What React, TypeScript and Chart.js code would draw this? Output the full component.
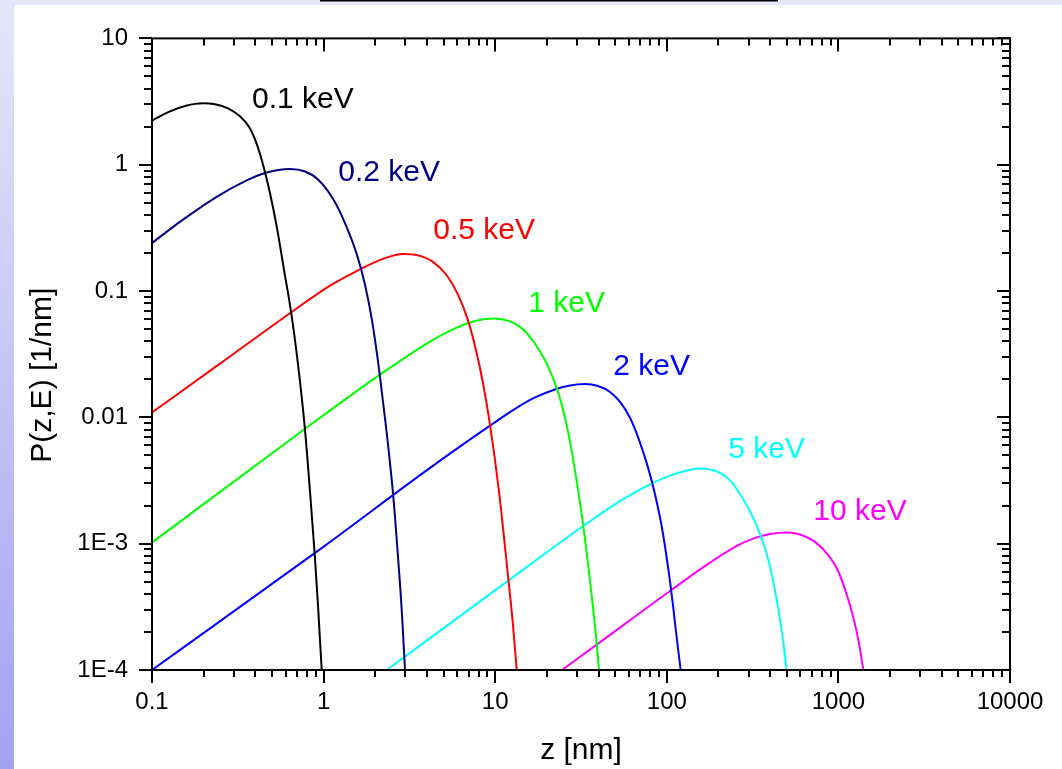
import React, { useEffect, useRef } from 'react';
import { Chart, registerables } from 'chart.js';

Chart.register(...registerables);

const FONT = "'Liberation Sans', Arial, Helvetica, sans-serif";

// Axis ticks
const X_TICK_VALUES = [0.1, 1, 10, 100, 1000, 10000];
const X_TICK_LABELS = ['0.1', '1', '10', '100', '1000', '10000'];
const Y_TICK_VALUES = [1e-4, 1e-3, 0.01, 0.1, 1, 10];
const Y_TICK_LABELS = ['1E-4', '1E-3', '0.01', '0.1', '1', '10'];

const X_TITLE = 'z [nm]';
const Y_TITLE = 'P(z,E) [1/nm]';

// Series (z in nm, P in 1/nm)
const NAMES = ['0.1 keV', '0.2 keV', '0.5 keV', '1 keV', '2 keV', '5 keV', '10 keV'];

const Z_01 = [0.1, 0.1273, 0.1578, 0.1982, 0.2329, 0.2773, 0.3257, 0.3675, 0.4091, 0.4465, 0.4872, 0.5352, 0.5878, 0.6457, 0.709, 0.776, 0.833, 0.8873, 0.9278, 0.9747];
const P_01 = [2.238, 2.644, 2.931, 3.066, 3.012, 2.792, 2.415, 1.997, 1.441, 0.968, 0.5937, 0.3151, 0.1473, 0.0689, 0.02638, 0.00844, 0.0026, 8.31e-4, 3.24e-4, 1e-4];

const Z_02 = [0.1, 0.1516, 0.2382, 0.3563, 0.4556, 0.637, 0.779, 0.9278, 1.139, 1.363, 1.565, 1.743, 1.915, 2.122, 2.31, 2.537, 2.714, 2.863, 2.981];
const P_02 = [0.2401, 0.3675, 0.5572, 0.7512, 0.8603, 0.9252, 0.8841, 0.7647, 0.5325, 0.3209, 0.1933, 0.1123, 0.05854, 0.02203, 0.00844, 0.00251, 7.87e-4, 2.76e-4, 1e-4];

const Z_05 = [0.1, 0.249, 0.6457, 1.09, 1.63, 2.219, 2.902, 3.549, 4.34, 5.239, 6.071, 6.942, 7.729, 8.489, 9.326, 10.52, 11.92, 12.7, 13.35];
const P_05 = [0.01093, 0.02662, 0.06763, 0.1103, 0.1487, 0.1798, 0.1968, 0.1915, 0.1703, 0.1322, 0.0937, 0.05854, 0.034, 0.01871, 0.008745, 0.0026, 5.29e-4, 2.26e-4, 1e-4];

const Z_1 = [0.1, 0.776, 2.131, 4.059, 5.832, 7.627, 9.973, 12.2, 14.33, 16.83, 19.51, 21.72, 24.17, 27.29, 29.98, 32.62, 35.68, 39.04, 40.27];
const P_1 = [1.02e-3, 0.008091, 0.02182, 0.03895, 0.05063, 0.05801, 0.06067, 0.05746, 0.05063, 0.0393, 0.02836, 0.02048, 0.01326, 0.006429, 0.003006, 0.00138, 5.1e-4, 1.63e-4, 1e-4];

const Z_2 = [0.1, 0.9788, 4.059, 9.326, 13.05, 17.06, 22.31, 27.29, 33.37, 39.72, 46.67, 53.38, 61.04, 69.8, 77.7, 85.35, 93.76, 101.6, 108.7, 114.7, 120.5];
const P_2 = [1e-4, 9.27e-4, 0.003873, 0.00859, 0.01168, 0.01439, 0.01663, 0.01788, 0.01837, 0.01771, 0.01589, 0.01326, 0.009928, 0.006318, 0.004017, 0.002463, 0.001331, 6.57e-4, 3.24e-4, 1.72e-4, 1e-4];

const Z_5 = [2.332, 2.981, 11.92, 32.62, 53.38, 79.82, 111.6, 156.1, 204.2, 239.9, 267.1, 305.3, 349.2, 388.9, 427.1, 467.3, 499.7];
const P_5 = [1e-4, 1.277e-4, 5.1e-4, 0.00138, 0.00217, 0.002952, 0.00357, 0.003944, 0.003635, 0.003061, 0.002463, 0.001811, 0.001194, 7.6e-4, 4.26e-4, 2.06e-4, 1e-4];

const Z_10 = [24.51, 39.04, 104.4, 178.5, 249.7, 326.6, 399.5, 499.7, 597.4, 730.4, 869.7, 994.7, 1118, 1221, 1318, 1397];
const P_10 = [1e-4, 1.587e-4, 4.22e-4, 7.07e-4, 9.44e-4, 0.001111, 0.001194, 0.001227, 0.001183, 0.001033, 8.16e-4, 6.11e-4, 3.96e-4, 2.62e-4, 1.63e-4, 1e-4];

const Z_SERIES = [Z_01, Z_02, Z_05, Z_1, Z_2, Z_5, Z_10];
const P_SERIES = [P_01, P_02, P_05, P_1, P_2, P_5, P_10];

// Styles
const COLORS = ['#000000', '#000080', '#ff0000', '#00ff00', '#0000ff', '#00ffff', '#ff00ff'];

// Curve label anchors (left edge, vertical centre) in data units
const LABEL_Z = [0.383, 1.218, 4.36, 15.6, 48.8, 228, 714];
const LABEL_P = [3.255, 0.868, 0.2985, 0.0796, 0.025, 0.00556, 0.00179];

function matchLabel(value: number, vals: number[], labels: string[]) {
  for (let i = 0; i < vals.length; i++) {
    if (Math.abs(Math.log10(value) - Math.log10(vals[i])) < 1e-6) return labels[i];
  }
  return '';
}

const chromePlugin = {
  id: 'chrome',
  beforeDraw(chart: any) {
    const { ctx, width, height } = chart;
    ctx.save();
    ctx.fillStyle = '#ffffff';
    ctx.fillRect(0, 0, width, height);
    ctx.fillStyle = '#e6e6fa';
    ctx.fillRect(0, 0, width, 5);
    const g = ctx.createLinearGradient(0, 0, 0, height);
    g.addColorStop(0, '#e6e6fa');
    g.addColorStop(1, '#a2a2f2');
    ctx.fillStyle = g;
    ctx.fillRect(0, 0, 14, height);
    ctx.fillStyle = '#000000';
    ctx.fillRect(320, 0, 458, 1.5);
    ctx.restore();
  },
  afterDraw(chart: any) {
    const { ctx, chartArea, scales } = chart;
    const { left, top, right, bottom } = chartArea;
    const xs = scales.x;
    const ys = scales.y;
    const steps = (min: number, max: number) => {
      const out: { v: number; major: boolean }[] = [];
      for (let e = Math.floor(Math.log10(min)); e <= Math.ceil(Math.log10(max)); e++) {
        for (let k = 1; k <= 9; k++) {
          const v = k * Math.pow(10, e);
          if (v >= min * 0.999999 && v <= max * 1.000001) out.push({ v, major: k === 1 });
        }
      }
      return out;
    };
    ctx.save();
    ctx.strokeStyle = '#000000';
    ctx.lineWidth = 2;
    ctx.beginPath();
    for (const { v, major } of steps(xs.min, xs.max)) {
      const px = Math.round(xs.getPixelForValue(v));
      const len = major ? 13 : 7;
      ctx.moveTo(px, bottom);
      ctx.lineTo(px, bottom + len);
      ctx.moveTo(px, top);
      ctx.lineTo(px, top + len);
    }
    for (const { v, major } of steps(ys.min, ys.max)) {
      const py = Math.round(ys.getPixelForValue(v));
      const len = major ? 13 : 8;
      ctx.moveTo(left - len, py);
      ctx.lineTo(left, py);
      ctx.moveTo(right - len, py);
      ctx.lineTo(right, py);
    }
    ctx.stroke();
    ctx.strokeRect(left, top, right - left, bottom - top);

    // curve labels
    ctx.font = `30px ${FONT}`;
    ctx.textAlign = 'left';
    ctx.textBaseline = 'middle';
    for (let i = 0; i < NAMES.length; i++) {
      ctx.fillStyle = COLORS[i];
      ctx.fillText(NAMES[i], xs.getPixelForValue(LABEL_Z[i]), ys.getPixelForValue(LABEL_P[i]));
    }

    // y axis title
    ctx.translate(43, (top + bottom) / 2 + 21);
    ctx.rotate(-Math.PI / 2);
    ctx.textAlign = 'center';
    ctx.fillStyle = '#000000';
    ctx.fillText(Y_TITLE, 0, 0);
    ctx.restore();
  },
};

export default function App() {
  const ref = useRef<HTMLCanvasElement | null>(null);
  useEffect(() => {
    if (!ref.current) return;
    const datasets = NAMES.map((name, i) => ({
      label: name,
      data: Z_SERIES[i].map((z, j) => ({ x: z, y: P_SERIES[i][j] })),
      borderColor: COLORS[i],
      backgroundColor: COLORS[i],
      borderWidth: 2,
      pointRadius: 0,
      fill: false,
      cubicInterpolationMode: 'monotone' as const,
    }));
    const chart = new Chart(ref.current, {
      type: 'line',
      data: { datasets },
      plugins: [chromePlugin],
      options: {
        animation: false,
        responsive: false,
        devicePixelRatio: 1,
        layout: { padding: { left: 0, top: 34, right: 52, bottom: 0 } },
        plugins: { legend: { display: false }, tooltip: { enabled: false } },
        scales: {
          x: {
            type: 'logarithmic',
            position: 'bottom',
            min: 0.1,
            max: 10000,
            grid: { display: false, drawTicks: false },
            border: { display: false },
            afterBuildTicks: (s: any) => {
              s.ticks = X_TICK_VALUES.map((v) => ({ value: v }));
            },
            afterFit: (s: any) => {
              s.height = 99;
            },
            ticks: {
              autoSkip: false,
              maxRotation: 0,
              padding: 18,
              color: '#000000',
              font: { family: FONT, size: 24 },
              callback: (v: any) => matchLabel(Number(v), X_TICK_VALUES, X_TICK_LABELS),
            },
            title: {
              display: true,
              text: X_TITLE,
              color: '#000000',
              font: { family: FONT, size: 30 },
              padding: { top: 0, bottom: 0 },
            },
          },
          y: {
            type: 'logarithmic',
            position: 'left',
            min: 1e-4,
            max: 10,
            grid: { display: false, drawTicks: false },
            border: { display: false },
            afterBuildTicks: (s: any) => {
              s.ticks = Y_TICK_VALUES.map((v) => ({ value: v }));
            },
            afterFit: (s: any) => {
              s.width = 152;
            },
            ticks: {
              autoSkip: false,
              padding: 24,
              color: '#000000',
              font: { family: FONT, size: 24 },
              callback: (v: any) => matchLabel(Number(v), Y_TICK_VALUES, Y_TICK_LABELS),
            },
          },
        },
      },
    });
    return () => chart.destroy();
  }, []);
  return (
    <div style={{ position: 'fixed', left: 0, top: 0, width: 1062, height: 769 }}>
      <canvas ref={ref} width={1062} height={769} style={{ display: 'block', width: 1062, height: 769 }} />
    </div>
  );
}
